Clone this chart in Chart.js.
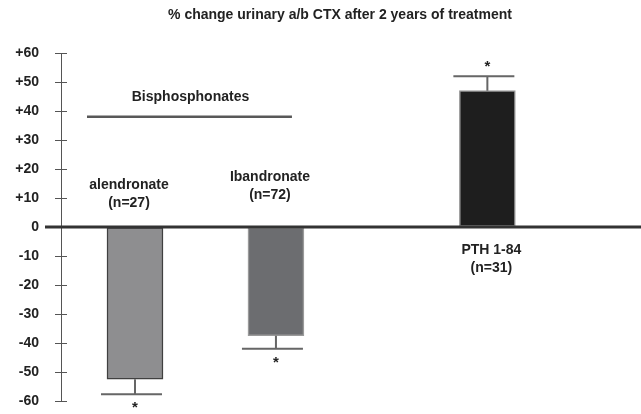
<!DOCTYPE html>
<html>
<head>
<meta charset="utf-8">
<script src="https://cdn.jsdelivr.net/npm/chart.js@4.4.1/dist/chart.umd.min.js"></script>
<style>
  html, body { margin: 0; padding: 0; background: #ffffff; overflow: hidden; }
  canvas { display: block; }
</style>
</head>
<body>
<canvas id="c" width="641" height="414"></canvas>
<script>
// Treatment groups and their 2-year % change in urinary a/b CTX
const treatments = ['alendronate', 'Ibandronate', 'PTH 1-84'];
const sampleSizes = [27, 72, 31];
const groupPositions = [1, 2, 3.5];
const pctChange = [-52.5, -37.5, 47];
const errorSize = [5.2, 4.5, 5];
const significant = [true, true, true];
const groupHeading = 'Bisphosphonates';
const bisphosphonateGroups = [0, 1];
const yTickValues = [-60, -50, -40, -30, -20, -10, 0, 10, 20, 30, 40, 50, 60];
const chartTitle = '% change urinary a/b CTX after 2 years of treatment';

const barColors = ['#8e8e90', '#6c6d70', '#1e1e1e'];
const barEdges = ['#404040', '#9a9a9a', '#9a9a9a'];
const FONT = '"Liberation Sans", Arial, sans-serif';
const INK = '#222222';

// Extra drawing: title, zero line, tick marks on both sides of the axis,
// error bars, significance stars and the group annotations.
const decorations = {
  id: 'decorations',
  afterDatasetsDraw(chart) {
    const { ctx, scales: { x, y }, chartArea } = chart;
    ctx.save();

    // title
    ctx.fillStyle = INK;
    ctx.font = 'bold 14px ' + FONT;
    ctx.textAlign = 'center';
    ctx.textBaseline = 'middle';
    ctx.fillText(chartTitle, 340, 15);

    // tick marks crossing the axis
    ctx.strokeStyle = '#555555';
    ctx.lineWidth = 1;
    yTickValues.forEach(v => {
      const py = Math.round(y.getPixelForValue(v)) + 0.5;
      ctx.beginPath();
      ctx.moveTo(chartArea.left - 6, py);
      ctx.lineTo(chartArea.left + 6, py);
      ctx.stroke();
    });

    // zero line
    const y0 = y.getPixelForValue(0);
    ctx.strokeStyle = '#333333';
    ctx.lineWidth = 3;
    ctx.beginPath();
    ctx.moveTo(chartArea.left - 16, y0);
    ctx.lineTo(chart.width, y0);
    ctx.stroke();

    // error bars and stars
    ctx.strokeStyle = '#666666';
    ctx.lineWidth = 2;
    pctChange.forEach((v, i) => {
      const cx = x.getPixelForValue(groupPositions[i]);
      const dir = v < 0 ? -1 : 1;
      const yBar = y.getPixelForValue(v);
      const yErr = y.getPixelForValue(v + dir * errorSize[i]);
      ctx.beginPath();
      ctx.moveTo(cx, yBar);
      ctx.lineTo(cx, yErr);
      ctx.moveTo(cx - 34, yErr);
      ctx.lineTo(cx + 27, yErr);
      ctx.stroke();
      if (significant[i]) {
        ctx.fillStyle = INK;
        ctx.font = 'bold 15px ' + FONT;
        ctx.textAlign = 'center';
        ctx.textBaseline = 'middle';
        ctx.fillText('*', cx, yErr + (dir < 0 ? 14 : -9));
      }
    });

    // group labels with sample sizes
    ctx.fillStyle = INK;
    ctx.font = 'bold 14px ' + FONT;
    ctx.textAlign = 'center';
    ctx.textBaseline = 'middle';
    const labelOffsets = [[-6, -42], [-6, -50], [4, 23]];
    treatments.forEach((name, i) => {
      const cx = x.getPixelForValue(groupPositions[i]) + labelOffsets[i][0];
      const ty = y0 + labelOffsets[i][1];
      ctx.fillText(name, cx, ty);
      ctx.fillText('(n=' + sampleSizes[i] + ')', cx, ty + 18);
    });

    // bisphosphonate bracket
    const first = x.getPixelForValue(groupPositions[bisphosphonateGroups[0]]);
    const last = x.getPixelForValue(groupPositions[bisphosphonateGroups[bisphosphonateGroups.length - 1]]);
    const by = y.getPixelForValue(38);
    ctx.strokeStyle = '#585858';
    ctx.lineWidth = 2.5;
    ctx.beginPath();
    ctx.moveTo(first - 48, by);
    ctx.lineTo(last + 16, by);
    ctx.stroke();
    ctx.fillText(groupHeading, (first - 48 + last + 16) / 2 + 1, by - 20);

    ctx.restore();
  }
};

new Chart(document.getElementById('c'), {
  type: 'bar',
  data: {
    datasets: [{
      data: groupPositions.map((p, i) => ({ x: p, y: pctChange[i] })),
      backgroundColor: barColors,
      borderColor: barEdges,
      borderWidth: 1.5,
      barThickness: 56,
      borderSkipped: false
    }]
  },
  options: {
    responsive: false,
    animation: false,
    events: [],
    layout: { padding: { top: 53, bottom: 13, left: 0, right: 0 } },
    plugins: {
      legend: { display: false },
      tooltip: { enabled: false },
      title: { display: false }
    },
    scales: {
      x: {
        type: 'linear',
        min: 0.475,
        max: 4.59,
        offset: false,
        display: false
      },
      y: {
        min: -60,
        max: 60,
        afterFit(scale) {
          scale.width = 61;
          scale.paddingTop = 0;
          scale.paddingBottom = 0;
        },
        afterBuildTicks(scale) { scale.ticks = yTickValues.map(v => ({ value: v })); },
        grid: { display: true, drawOnChartArea: false, drawTicks: false, color: 'rgba(0,0,0,0)' },
        border: { display: true, color: '#555555', width: 1 },
        ticks: {
          padding: 22,
          color: INK,
          font: { family: FONT, size: 14, weight: 'bold' },
          callback: v => (v > 0 ? '+' + v : String(v))
        }
      }
    }
  },
  plugins: [decorations]
});
</script>
</body>
</html>
